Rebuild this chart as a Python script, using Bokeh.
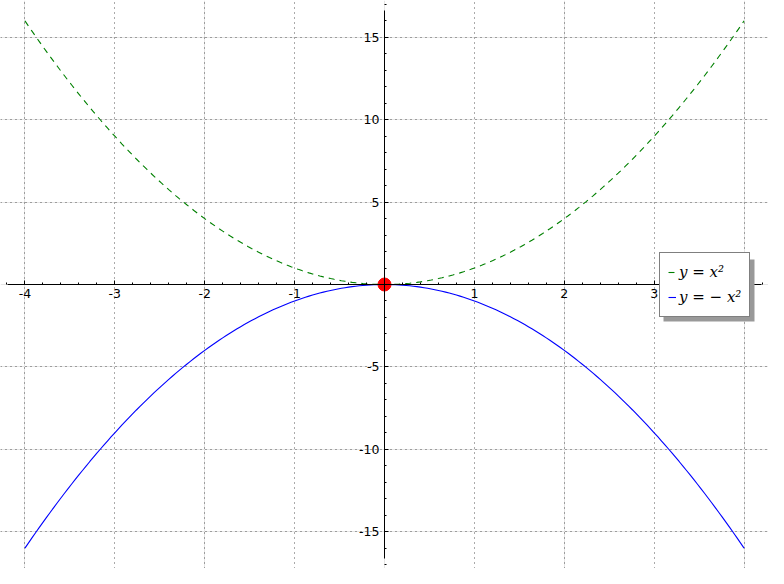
import numpy as np
from bokeh.plotting import figure
from bokeh.models import (FixedTicker, Range1d, Legend, LegendItem, BoxAnnotation,
                          LinearAxis, Grid, PrintfTickFormatter)
from bokeh.embed import file_html
from bokeh.resources import INLINE

# ---- data ----
x_vals = np.linspace(-4, 4, 201)
y_up = x_vals ** 2          # y = x^2
y_down = -(x_vals ** 2)     # y = -x^2
point_x = [0]
point_y = [0]
x_ticks = [-4, -3, -2, -1, 1, 2, 3, 4]
y_ticks = [-15, -10, -5, 5, 10, 15]
x_minor = [round(-4.2 + 0.2 * i, 1) for i in range(43)]
y_minor = list(range(-17, 18))
labels = ["y = x²", "y = − x²"]

# ---- figure ----
W, H = 768, 568
XR, YR = 4.272, 17.24
p = figure(width=W, height=H, output_backend="svg", toolbar_location=None,
           x_range=Range1d(-XR, XR), y_range=Range1d(-YR, YR),
           x_axis_location=None, y_axis_location=None, min_border=0)
p.outline_line_color = None
p.background_fill_color = "white"
p.border_fill_color = "white"

xaxis = LinearAxis(ticker=FixedTicker(ticks=x_ticks, minor_ticks=x_minor))
yaxis = LinearAxis(ticker=FixedTicker(ticks=y_ticks, minor_ticks=y_minor))
for ax in (xaxis, yaxis):
    ax.fixed_location = 0
    ax.formatter = PrintfTickFormatter(format="%d")
    ax.major_tick_in = 4
    ax.major_tick_out = 0
    ax.minor_tick_in = 2
    ax.minor_tick_out = 0
    ax.axis_line_color = "black"
    ax.major_tick_line_color = "black"
    ax.minor_tick_line_color = "black"
    ax.major_label_text_font = "DejaVu Sans"
    ax.major_label_text_font_size = "12.5px"
    ax.major_label_text_color = "black"
xaxis.major_label_standoff = 4
yaxis.major_label_standoff = 5
xaxis.bounds = (-4.19, 4.19)
yaxis.bounds = (-16.66, 16.66)
p.add_layout(xaxis, "below")
p.add_layout(yaxis, "left")

gx = Grid(dimension=0, ticker=xaxis.ticker)
gy = Grid(dimension=1, ticker=yaxis.ticker)
for g in (gx, gy):
    g.grid_line_color = "#555555"
    g.grid_line_dash = "1 4"
    g.grid_line_width = 1
    p.add_layout(g)

r_up = p.line(x_vals, y_up, line_color="#008000", line_width=1.1, line_dash="6 5")
r_down = p.line(x_vals, y_down, line_color="#0000ff", line_width=1.1)
p.scatter(point_x, point_y, size=13, fill_color="#ff0000", line_color="#ff0000")

# legend shadow, placed in pixel terms converted to data units
sx = W / (2 * XR)
sy = H / (2 * YR)
cx, cy = W / 2, H / 2
shadow = BoxAnnotation(left=(663 - cx) / sx, right=(754 - cx) / sx,
                       top=(cy - 259) / sy, bottom=(cy - 321) / sy,
                       fill_color="#999999", fill_alpha=1.0, line_color=None,
                       level="overlay")
p.add_layout(shadow)

legend = Legend(items=[LegendItem(label=labels[0], renderers=[r_up]),
                       LegendItem(label=labels[1], renderers=[r_down])],
                location=(659, 251), orientation="vertical",
                label_text_font="DejaVu Serif", label_text_font_style="italic",
                label_text_font_size="15px", label_text_color="black",
                glyph_width=8, glyph_height=22,
                label_standoff=3, padding=8, spacing=3, margin=0,
                border_line_color="black", border_line_width=1.5,
                background_fill_color="white", background_fill_alpha=1.0,
                label_height=22)
p.add_layout(legend, "center")

open("out.html", "w").write(file_html(p, INLINE))
